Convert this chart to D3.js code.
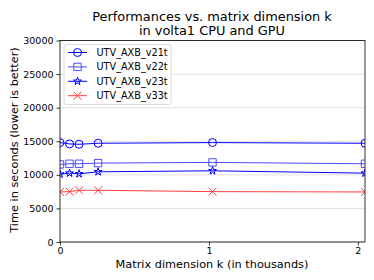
<!DOCTYPE html>
<html lang="en">
<head>
  <meta charset="UTF-8" />
  <title>Performances vs. matrix dimension k</title>
  <script src="https://d3js.org/d3.v7.min.js"></script>
  <style>
    body { margin: 0; background: #fff; }
    svg text { font-family: "DejaVu Sans", sans-serif; }
    .grid line { stroke: #d9d9d9; stroke-width: 0.8; }
    .axis path, .axis line { stroke: #000; stroke-width: 0.8; }
    .axis text { font-size: 9.5px; fill: #000; }
  </style>
</head>
<body>
  <svg id="chart" width="374" height="280"></svg>

  <script>
    // k in thousands
    const kValues = [0, 0.064, 0.128, 0.256, 1.024, 2.048];
    const v21t = [14800, 14600, 14550, 14700, 14800, 14700];
    const v22t = [11550, 11650, 11650, 11750, 11850, 11650];
    const v23t = [10100, 10250, 10150, 10450, 10600, 10250];
    const v33t = [7450, 7500, 7700, 7700, 7500, 7450];
    const yTicks = [0, 5000, 10000, 15000, 20000, 25000, 30000];
    const xTicks = [0, 1, 2];

    const series = [
      { name: "UTV_AXB_v21t", values: v21t, color: "#0000ff", alpha: 1, marker: "circle" },
      { name: "UTV_AXB_v22t", values: v22t, color: "#0000ff", alpha: 0.7, marker: "square" },
      { name: "UTV_AXB_v23t", values: v23t, color: "#0000ff", alpha: 1, marker: "star" },
      { name: "UTV_AXB_v33t", values: v33t, color: "#ff0000", alpha: 0.75, marker: "x" }
    ];

    const svg = d3.select("#chart");
    const m = { left: 60, right: 9, top: 40.5, bottom: 38 };
    const w = 374 - m.left - m.right;
    const h = 280 - m.top - m.bottom;

    const x = d3.scaleLinear().domain([0, 2.048]).range([0, w]);
    const y = d3.scaleLinear().domain([0, 30000]).range([h, 0]);

    const g = svg.append("g").attr("transform", `translate(${m.left},${m.top})`);

    svg.append("defs").append("clipPath").attr("id", "clip")
      .append("rect").attr("width", w).attr("height", h);

    // horizontal grid
    g.append("g").attr("class", "grid")
      .selectAll("line").data(yTicks).join("line")
      .attr("x1", 0).attr("x2", w)
      .attr("y1", d => y(d)).attr("y2", d => y(d));

    function markerPath(type, s) {
      if (type === "circle") return d3.symbol(d3.symbolCircle, s * s * Math.PI / 4)();
      if (type === "square") return d3.symbol(d3.symbolSquare, s * s * 0.85)();
      if (type === "star") return d3.symbol(d3.symbolStar, s * s * 0.3)();
      const r = s / 2;
      return `M${-r},${-r}L${r},${r}M${-r},${r}L${r},${-r}`;
    }

    const plot = g.append("g").attr("clip-path", "url(#clip)");
    const line = d3.line().x((d, i) => x(kValues[i])).y(d => y(d));

    series.forEach(s => {
      const sg = plot.append("g").attr("opacity", s.alpha);
      sg.append("path").datum(s.values)
        .attr("d", line)
        .attr("fill", "none")
        .attr("stroke", s.color)
        .attr("stroke-width", 1);
      sg.selectAll("path.mk").data(s.values).join("path")
        .attr("class", "mk")
        .attr("transform", (d, i) => `translate(${x(kValues[i])},${y(d)})`)
        .attr("d", markerPath(s.marker, 8))
        .attr("fill", "none")
        .attr("stroke", s.color)
        .attr("stroke-width", 1);
    });

    // axes
    const ya = g.append("g").attr("class", "axis")
      .call(d3.axisLeft(y).tickValues(yTicks).tickSize(3.5).tickPadding(3).tickFormat(d3.format("d")));
    const xa = g.append("g").attr("class", "axis").attr("transform", `translate(0,${h})`)
      .call(d3.axisBottom(x).tickValues(xTicks).tickSize(3.5).tickPadding(2).tickFormat(d3.format("d")));
    ya.attr("font-family", null).attr("font-size", null);
    xa.attr("font-family", null).attr("font-size", null);
    g.selectAll(".axis .domain").remove();
    g.append("rect").attr("width", w).attr("height", h)
      .attr("fill", "none").attr("stroke", "#000").attr("stroke-width", 0.8);

    // legend
    const lg = g.append("g").attr("transform", "translate(4,4)");
    lg.append("rect").attr("width", 107).attr("height", 60).attr("rx", 2.5)
      .attr("fill", "#fff").attr("fill-opacity", 0.8)
      .attr("stroke", "#d0d0d0").attr("stroke-width", 0.8);
    series.forEach((s, i) => {
      const row = lg.append("g").attr("transform", `translate(0,${8 + i * 14.4})`);
      const mk = row.append("g").attr("opacity", s.alpha);
      mk.append("line").attr("x1", 4).attr("x2", 23)
        .attr("stroke", s.color).attr("stroke-width", 1);
      mk.append("path").attr("transform", "translate(13.5,0)")
        .attr("d", markerPath(s.marker, 8))
        .attr("fill", "none").attr("stroke", s.color).attr("stroke-width", 1);
      row.append("text").attr("x", 32.5).attr("y", 3.5)
        .attr("font-size", "9.7px").attr("fill", "#000").text(s.name);
    });

    // titles
    svg.append("text").attr("x", 212).attr("y", 20.5)
      .attr("text-anchor", "middle").attr("font-size", "12.9px")
      .text("Performances vs. matrix dimension k");
    svg.append("text").attr("x", 212).attr("y", 34.5)
      .attr("text-anchor", "middle").attr("font-size", "12.9px")
      .text("in volta1 CPU and GPU");
    svg.append("text").attr("x", 212).attr("y", 268)
      .attr("text-anchor", "middle").attr("font-size", "11.3px")
      .text("Matrix dimension k (in thousands)");
    svg.append("text").attr("transform", `translate(17.5,140) rotate(-90)`)
      .attr("text-anchor", "middle").attr("font-size", "11.3px")
      .text("Time in seconds (lower is better)");
  </script>
</body>
</html>
